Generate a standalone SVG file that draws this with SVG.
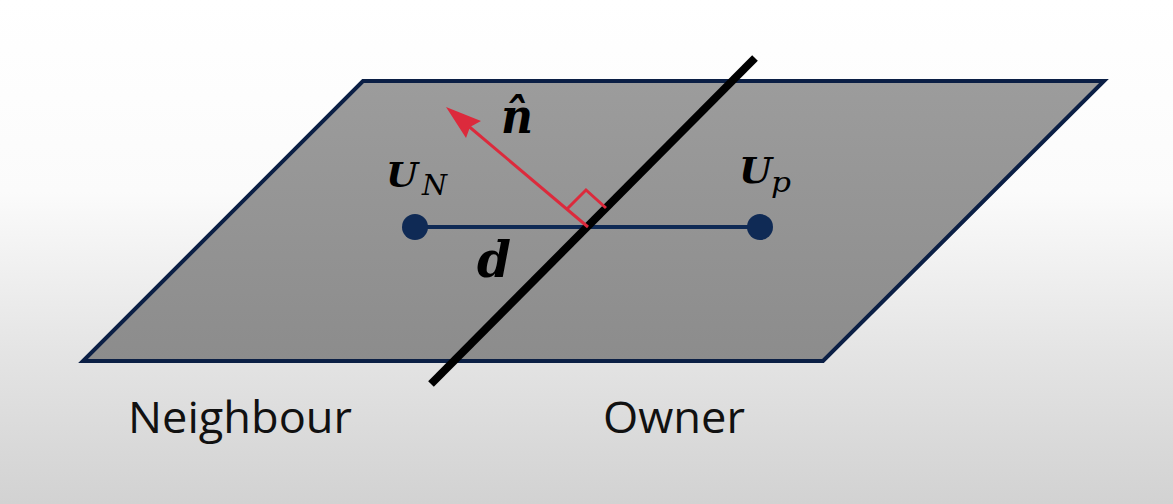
<svg xmlns="http://www.w3.org/2000/svg" width="1173" height="504" viewBox="0 0 1173 504">
<defs>
<linearGradient id="bg" x1="0" y1="0" x2="0" y2="1">
<stop offset="0" stop-color="#ffffff"/>
<stop offset="0.38" stop-color="#fbfbfb"/>
<stop offset="0.7" stop-color="#e4e4e4"/>
<stop offset="1" stop-color="#d2d2d2"/>
</linearGradient>
<linearGradient id="pl" x1="0" y1="0" x2="0" y2="1">
<stop offset="0" stop-color="#9c9c9c"/>
<stop offset="1" stop-color="#8c8c8c"/>
</linearGradient>
<style>
.math{font-family:"DejaVu Serif","Liberation Serif",serif;font-style:italic;font-weight:bold;fill:#000}
.sub{font-family:"DejaVu Serif","Liberation Serif",serif;font-style:italic;fill:#000}
.lbl{font-family:"Open Sans","Noto Sans",sans-serif;font-size:44px;fill:#111}
.red{stroke:#dc2a3c;fill:none;stroke-width:3}
</style>
</defs>
<rect width="1173" height="504" fill="url(#bg)"/>
<g id="plane">
<polygon points="363,81 1104,81 823,361 83,361" fill="url(#pl)" stroke="#0b1f45" stroke-width="4" stroke-linejoin="miter"/>
</g>
<g id="connectors">
<line id="d-segment" x1="415" y1="227" x2="760" y2="227" stroke="#0f2a55" stroke-width="4"/>
<line id="face" x1="755" y1="58" x2="431" y2="384" stroke="#000" stroke-width="8"/>
<line id="normal" class="red" x1="588" y1="227" x2="466" y2="124"/>
<path d="M446,107 L481,121 L470,127 L466,138 Z" fill="#dc2a3c"/>
<polyline id="right-angle" class="red" points="567,209 586,190 606,208"/>
</g>
<g id="UN">
<circle cx="415" cy="227" r="13" fill="#0f2a55"/>
<text class="math" x="386" y="187" font-size="34" textLength="32" lengthAdjust="spacingAndGlyphs">U</text>
<text class="sub" x="422" y="195" font-size="27" textLength="25" lengthAdjust="spacingAndGlyphs">N</text>
</g>
<g id="UP">
<circle cx="760" cy="227" r="13" fill="#0f2a55"/>
<text class="math" x="739" y="183" font-size="35" textLength="33" lengthAdjust="spacingAndGlyphs">U</text>
<text class="sub" x="771" y="192" font-size="27" textLength="20" lengthAdjust="spacingAndGlyphs">p</text>
</g>
<g id="n-hat">
<text class="math" x="501" y="133" font-size="48" textLength="32" lengthAdjust="spacingAndGlyphs">n̂</text>
</g>
<g id="d-label">
<text class="math" x="477" y="277" font-size="50" textLength="34" lengthAdjust="spacingAndGlyphs">d</text>
</g>
<g id="neighbour">
<text class="lbl" x="128" y="433" textLength="224" lengthAdjust="spacingAndGlyphs">Neighbour</text>
</g>
<g id="owner">
<text class="lbl" x="603" y="433" textLength="142" lengthAdjust="spacingAndGlyphs">Owner</text>
</g>
</svg>
